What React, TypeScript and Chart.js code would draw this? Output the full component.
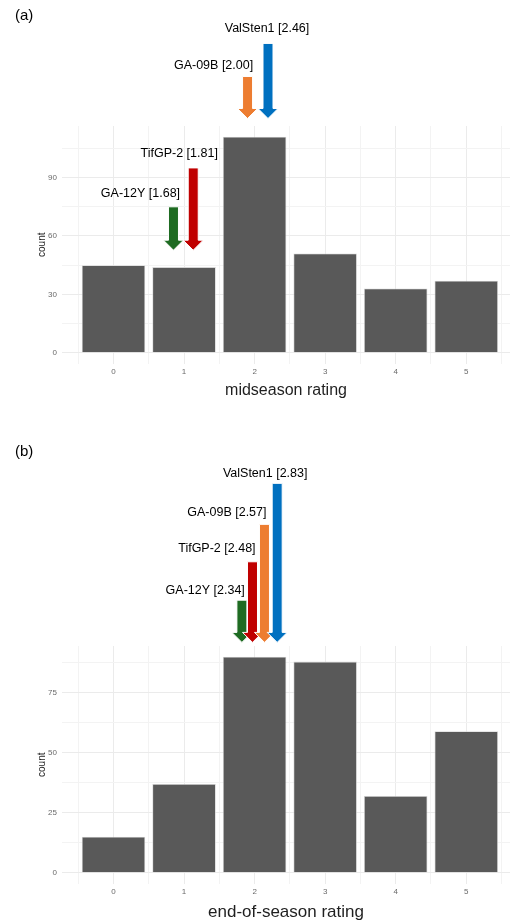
import React, { useEffect, useRef } from 'react';
import { Chart, registerables } from 'chart.js';

Chart.register(...registerables);

// ---- data ----
const ratingCategories = [0, 1, 2, 3, 4, 5];
const midseasonCounts = [45, 44, 111, 51, 33, 37];
const endOfSeasonCounts = [15, 37, 90, 88, 32, 59];

const midYTickLabels = [0, 30, 60, 90];
const endYTickLabels = [0, 25, 50, 75];

const cultivarNames = ['GA-12Y', 'TifGP-2', 'GA-09B', 'ValSten1'];
const midseasonMeans = [1.68, 1.81, 2.0, 2.46];
const endOfSeasonMeans = [2.34, 2.48, 2.57, 2.83];

// arrow annotation placement, in each panel's data coordinates
const midArrowX = [0.85, 1.13, 1.9, 2.19];
const midArrowTail = [75, 95, 142, 159];
const midArrowTip = [52.7, 52.7, 120.4, 120.4];
const endArrowX = [1.82, 1.97, 2.14, 2.32];
const endArrowTail = [113.6, 129.6, 145.2, 162.3];
const endArrowTip = [96, 96, 96, 96];

// ---- styles ----
const cultivarColors = ['#1E6B22', '#C00000', '#ED7D31', '#0070C0'];
const midLabelDx = [-33, -14, -34, -1];
const midLabelDy = [13.4, 14.4, 11, 15];
const endLabelDx = [-36.7, -35.6, -37.6, -12];
const endLabelDy = [10, 13.4, 11.6, 10];

const FONT = "'Liberation Sans', Arial, sans-serif";

type PanelCfg = {
  height: number;
  padTop: number;
  padBottom: number;
  xAxisHeight: number;
  counts: number[];
  yTickLabels: number[];
  means: number[];
  arrowX: number[];
  arrowTail: number[];
  arrowTip: number[];
  labelDx: number[];
  labelDy: number[];
  title: string;
  titleSize: number;
  tag: string;
  tagY: number;
};

const panels: PanelCfg[] = [
  {
    height: 440,
    padTop: 126,
    padBottom: 41,
    xAxisHeight: 35.5,
    counts: midseasonCounts,
    yTickLabels: midYTickLabels,
    means: midseasonMeans,
    arrowX: midArrowX,
    arrowTail: midArrowTail,
    arrowTip: midArrowTip,
    labelDx: midLabelDx,
    labelDy: midLabelDy,
    title: 'midseason rating',
    titleSize: 16,
    tag: '(a)',
    tagY: 16,
  },
  {
    height: 481,
    padTop: 206,
    padBottom: 0,
    xAxisHeight: 37.5,
    counts: endOfSeasonCounts,
    yTickLabels: endYTickLabels,
    means: endOfSeasonMeans,
    arrowX: endArrowX,
    arrowTail: endArrowTail,
    arrowTip: endArrowTip,
    labelDx: endLabelDx,
    labelDy: endLabelDy,
    title: 'end-of-season rating',
    titleSize: 17,
    tag: '(b)',
    tagY: 12,
  },
];

function Panel({ cfg }: { cfg: PanelCfg }) {
  const ref = useRef<HTMLCanvasElement>(null);

  useEffect(() => {
    const canvas = ref.current!;
    const first = ratingCategories[0];
    const last = ratingCategories[ratingCategories.length - 1];
    const xTicks: { value: number }[] = [];
    for (let v = first - 0.5; v <= last + 0.5 + 1e-9; v += 0.5) xTicks.push({ value: v });

    const maxCount = Math.max(...cfg.counts);
    const yMax = maxCount * 1.05;
    const yMin = -maxCount * 0.05;
    const yStep = cfg.yTickLabels[1] - cfg.yTickLabels[0];
    const yTicks: { value: number }[] = [];
    for (let v = 0; v <= yMax; v += yStep / 2) yTicks.push({ value: v });

    const arrowPlugin = {
      id: 'arrowsAndTags',
      afterDraw(chart: any) {
        const { ctx } = chart;
        const xs = chart.scales.x;
        const ys = chart.scales.y;
        ctx.save();
        cfg.arrowX.forEach((ax, i) => {
          const x = xs.getPixelForValue(ax);
          const yTail = ys.getPixelForValue(cfg.arrowTail[i]);
          const yTip = ys.getPixelForValue(cfg.arrowTip[i]);
          const sw = 5;
          const hw = 10;
          const hl = 10;
          ctx.beginPath();
          ctx.moveTo(x - sw, yTail);
          ctx.lineTo(x + sw, yTail);
          ctx.lineTo(x + sw, yTip - hl);
          ctx.lineTo(x + hw, yTip - hl);
          ctx.lineTo(x, yTip);
          ctx.lineTo(x - hw, yTip - hl);
          ctx.lineTo(x - sw, yTip - hl);
          ctx.closePath();
          ctx.fillStyle = cultivarColors[i];
          ctx.fill();
          ctx.strokeStyle = '#ffffff';
          ctx.lineWidth = 1;
          ctx.stroke();
        });
        ctx.fillStyle = '#000000';
        ctx.font = `12.5px ${FONT}`;
        ctx.textAlign = 'center';
        ctx.textBaseline = 'middle';
        cfg.arrowX.forEach((ax, i) => {
          const x = xs.getPixelForValue(ax) + cfg.labelDx[i];
          const y = ys.getPixelForValue(cfg.arrowTail[i]) - cfg.labelDy[i];
          ctx.fillText(`${cultivarNames[i]} [${cfg.means[i].toFixed(2)}]`, x, y);
        });
        ctx.font = `15px ${FONT}`;
        ctx.textAlign = 'left';
        ctx.fillText(cfg.tag, 15, cfg.tagY);
        ctx.restore();
      },
    };

    const chart = new Chart(canvas, {
      type: 'bar',
      data: {
        datasets: [
          {
            data: ratingCategories.map((c, i) => ({ x: c, y: cfg.counts[i] })),
            backgroundColor: '#595959',
            borderColor: '#d4d4d4',
            borderWidth: 0.8,
            // grid ticks every 0.5 halve the bar ruler, so 0.9 * 2 spans 0.9 of a category
            categoryPercentage: 0.9,
            barPercentage: 2,
          },
        ],
      },
      options: {
        responsive: false,
        animation: false,
        devicePixelRatio: 1,
        layout: { padding: { top: cfg.padTop, bottom: cfg.padBottom, left: 0, right: 0 } },
        plugins: { legend: { display: false }, tooltip: { enabled: false } },
        scales: {
          x: {
            type: 'linear',
            min: first - 0.73,
            max: last + 0.62,
            bounds: 'data',
            offset: false,
            afterBuildTicks: (scale: any) => {
              scale.ticks = xTicks.map((t) => ({ ...t }));
            },
            afterFit: (scale: any) => {
              scale.height = cfg.xAxisHeight;
            },
            border: { display: false },
            grid: {
              offset: false,
              drawTicks: false,
              color: (ctx: any) =>
                Number.isInteger(ctx.tick?.value) ? '#ebebeb' : '#f3f3f3',
              lineWidth: 1,
            },
            ticks: {
              autoSkip: false,
              maxRotation: 0,
              padding: 3,
              color: '#6a6a6a',
              font: { family: FONT, size: 8 },
              callback: (v: any) => (Number.isInteger(v) ? String(v) : ''),
            },
            title: {
              display: true,
              text: cfg.title,
              color: '#1f1f1f',
              font: { family: FONT, size: cfg.titleSize, lineHeight: 1 },
              padding: { top: 0, bottom: 0 },
            },
          },
          y: {
            type: 'linear',
            min: yMin,
            max: yMax,
            bounds: 'data',
            afterBuildTicks: (scale: any) => {
              scale.ticks = yTicks.map((t) => ({ ...t }));
            },
            afterFit: (scale: any) => {
              scale.width = 62;
            },
            border: { display: false },
            grid: {
              drawTicks: false,
              color: (ctx: any) =>
                cfg.yTickLabels.includes(ctx.tick?.value) ? '#ebebeb' : '#f3f3f3',
              lineWidth: 1,
            },
            ticks: {
              autoSkip: false,
              padding: 5,
              color: '#6a6a6a',
              font: { family: FONT, size: 8 },
              callback: (v: any) => (cfg.yTickLabels.includes(v) ? String(v) : ''),
            },
            title: {
              display: true,
              text: 'count',
              color: '#1f1f1f',
              font: { family: FONT, size: 10, lineHeight: 1 },
              padding: { top: 37, bottom: 0 },
            },
          },
        },
      },
      plugins: [arrowPlugin],
    } as any);

    return () => chart.destroy();
  }, [cfg]);

  return (
    <canvas
      ref={ref}
      width={510}
      height={cfg.height}
      style={{ display: 'block', width: 510, height: cfg.height }}
    />
  );
}

export default function App() {
  return (
    <div
      style={{
        position: 'absolute',
        left: 0,
        top: 0,
        width: 510,
        height: 921,
        overflow: 'hidden',
        background: '#ffffff',
      }}
    >
      {panels.map((p) => (
        <Panel key={p.tag} cfg={p} />
      ))}
    </div>
  );
}
